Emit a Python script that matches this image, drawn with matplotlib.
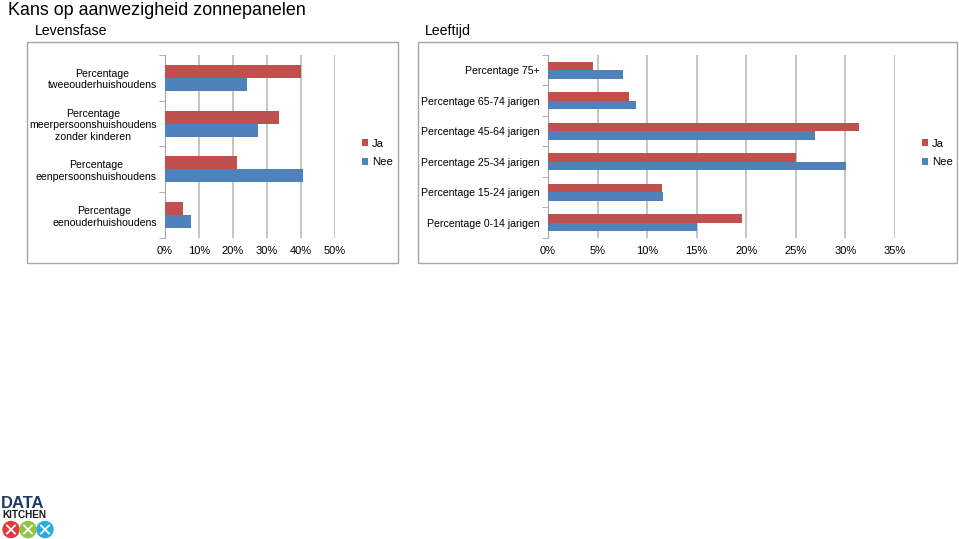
import numpy as np
import matplotlib.pyplot as plt
from matplotlib.patches import Rectangle, Circle

# data (percent)
fase_labels = ['Percentage\ntweeouderhuishoudens',
               'Percentage\nmeerpersoonshuishoudens\nzonder kinderen',
               'Percentage\neenpersoonshuishoudens',
               'Percentage\neenouderhuishoudens']
fase_ja = [40.1, 33.6, 21.3, 5.3]
fase_nee = [24.1, 27.5, 40.8, 7.6]

leeftijd_labels = ['Percentage 75+', 'Percentage 65-74 jarigen',
                   'Percentage 45-64 jarigen', 'Percentage 25-34 jarigen',
                   'Percentage 15-24 jarigen', 'Percentage 0-14 jarigen']
leeftijd_ja = [4.5, 8.2, 31.4, 25.0, 11.5, 19.6]
leeftijd_nee = [7.6, 8.9, 26.9, 30.1, 11.6, 15.0]

JA = '#C0504D'
NEE = '#4F81BD'
GRID = '#C4C4C4'
FONT = 'Liberation Sans'
FS = 7.6

W, H = 959, 539
fig = plt.figure(figsize=(W / 100, H / 100), dpi=100)


def fx(px):
    return px / W


def fy(py):
    return 1 - py / H


fig.text(fx(8), fy(2), 'Kans op aanwezigheid zonnepanelen', family=FONT,
         fontsize=12.9, va='top', ha='left')
fig.text(fx(35), fy(31), 'Levensfase', family=FONT, fontsize=10.2,
         va='center', ha='left')
fig.text(fx(425), fy(31), 'Leeftijd', family=FONT, fontsize=10.2,
         va='center', ha='left')

# outer frames of both charts
for x0, x1 in [(27, 398), (418, 957)]:
    fig.patches.append(Rectangle((fx(x0), fy(263)), fx(x1 - x0), (263 - 42) / H,
                                 transform=fig.transFigure, fill=False,
                                 edgecolor='#A6A6A6', linewidth=1))


def bar_chart(rect, labels, ja, nee, xmax, step, legend_px):
    ax = fig.add_axes(rect)
    y = np.arange(len(labels))
    h = 0.285
    ax.barh(y - h / 2, ja, height=h, color=JA, label='Ja', zorder=3)
    ax.barh(y + h / 2, nee, height=h, color=NEE, label='Nee', zorder=3)
    ax.set_xlim(0, xmax)
    ax.set_ylim(len(labels) - 0.5, -0.5)
    ticks = np.arange(0, xmax + 0.01, step)
    ax.set_xticks(ticks)
    ax.set_xticklabels(['%d%%' % t for t in ticks], family=FONT, fontsize=FS + 0.4)
    ax.set_yticks(y)
    ax.set_yticklabels(labels, family=FONT, fontsize=FS, linespacing=1.2,
                       multialignment='center')
    ax.set_yticks(np.arange(len(labels) + 1) - 0.5, minor=True)
    ax.tick_params(axis='y', which='major', length=0, pad=6)
    ax.tick_params(axis='y', which='minor', length=4, color='#A6A6A6')
    ax.tick_params(axis='x', length=0, pad=6)
    ax.grid(axis='x', color=GRID, linewidth=1.4, zorder=0)
    for s in ['top', 'right', 'bottom']:
        ax.spines[s].set_visible(False)
    ax.spines['left'].set_color('#A6A6A6')
    ax.legend(loc='center left', bbox_to_anchor=(fx(legend_px), fy(153)),
              bbox_transform=fig.transFigure, frameon=False, borderpad=0,
              borderaxespad=0, prop={'family': FONT, 'size': FS + 0.6},
              handlelength=0.55, handleheight=0.55, handletextpad=0.35,
              labelspacing=0.75)
    return ax


bar_chart([fx(165), fy(238), fx(334.5 - 165), (238 - 55) / H],
          fase_labels, fase_ja, fase_nee, 50, 10, 362)
bar_chart([fx(548), fy(238), fx(895 - 548), (238 - 55) / H],
          leeftijd_labels, leeftijd_ja, leeftijd_nee, 35, 5, 922)

# small logo in the lower left corner, drawn in pixel units
logo = fig.add_axes([0, 0, fx(58), 46 / H])
logo.set_xlim(0, 58)
logo.set_ylim(46, 0)
logo.axis('off')
logo.text(1, 14.5, 'DATA', family=FONT, fontweight='bold', fontsize=12,
          color='#1F3864', va='baseline', ha='left')
logo.text(2, 25, 'KITCHEN', family=FONT, fontweight='bold', fontsize=7.2,
          color='#1A1A1A', va='baseline', ha='left')
for cx, col in [(11, '#E03A3E'), (28, '#8DC63F'), (45, '#29ABE2')]:
    logo.add_patch(Circle((cx, 36.5), 8, color=col))
    logo.plot([cx - 4, cx + 4], [32.5, 40.5], color='white', lw=1.3)
    logo.plot([cx - 4, cx + 4], [40.5, 32.5], color='white', lw=1.3)

fig.savefig('out.png', dpi=100)
